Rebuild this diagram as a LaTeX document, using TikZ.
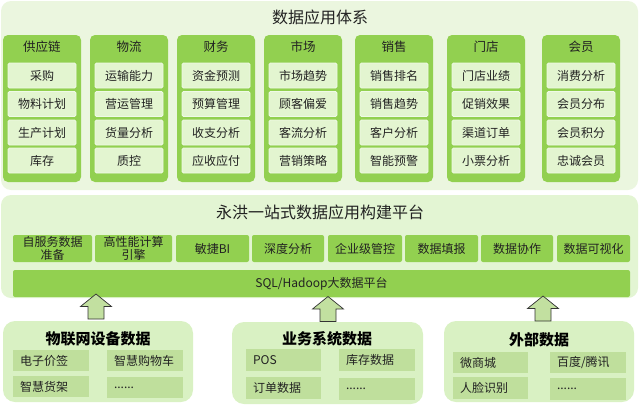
\documentclass[tikz,border=0pt]{standalone}
\usepackage{fontspec}
\setmainfont{Noto Sans CJK SC}
\definecolor{bgtop}{HTML}{EBF6DF}
\definecolor{colg}{HTML}{92D050}
\definecolor{itemg}{HTML}{E3F5D0}
\definecolor{itemb}{HTML}{EFFAE6}
\definecolor{midbg}{HTML}{E3F5D3}
\definecolor{botbg}{HTML}{D9F1C3}
\definecolor{botit}{HTML}{BFDF9C}
\definecolor{arrf}{HTML}{C2E0A0}
\definecolor{txt}{HTML}{222222}
\newcommand\mybox[7]{%
  \pgfmathsetmacro\bw{#4-#2}\pgfmathsetmacro\bh{#5-#3}\pgfmathsetmacro\tw{#4-#2-14}%
  \node[#6, minimum width=\bw pt, minimum height=\bh pt] (#1) at ({(#2+#4)/2},{(#3+#5)/2}) {#7};}
\tikzset{
  panel/.style={fill=bgtop, draw=none, rounded corners=10pt, inner sep=0pt},
  colbox/.style={fill=colg, draw=none, rounded corners=5pt, inner sep=0pt},
  itembox/.style={fill=itemg, draw=itemb, line width=0.8pt, rounded corners=1.5pt, inner sep=0pt, text=txt, font=\fontsize{12}{13}\selectfont},
  featbox/.style={fill=colg, draw=none, rounded corners=2pt, inner sep=0pt, text=txt, align=center, font=\fontsize{12}{12.5}\selectfont},
  botpanel/.style={fill=botbg, draw=none, rounded corners=12pt, inner sep=0pt},
  botitem/.style={fill=botit, draw=none, inner sep=0pt, inner xsep=7pt, text width=\tw pt, align=left, text=txt, font=\fontsize{12}{13}\selectfont},
  hdr/.style={text=txt, font=\fontsize{12.5}{13}\selectfont, inner sep=0pt},
  title/.style={text=txt, font=\fontsize{16}{17}\selectfont, inner sep=0pt},
  btitle/.style={text=black, font=\fontsize{15}{16}\selectfont\bfseries, inner sep=0pt},
  blockarrow/.style={fill=arrf, draw=black!80, line width=0.7pt, line join=miter}
}
\begin{document}
\begin{tikzpicture}[x=1pt,y=-1pt]
\useasboundingbox (0,0) rectangle (640,410);
% top panel
\mybox{top}{1}{1}{638}{190}{panel}{}
\node[title] (toptitle) at (320,17) {数据应用体系};
% columns
\def\cols{{3,90,177,264,355,447,542}}
\foreach \i/\h/\a/\b/\c/\d in {
 0/供应链/采购/物料计划/生产计划/库存,
 1/物流/运输能力/营运管理/货量分析/质控,
 2/财务/资金预测/预算管理/收支分析/应收应付,
 3/市场/市场趋势/顾客偏爱/客流分析/营销策略,
 4/销售/销售排名/销售趋势/客户分析/智能预警,
 5/门店/门店业绩/促销效果/渠道订单/小票分析,
 6/会员/消费分析/会员分布/会员积分/忠诚会员}{
  \pgfmathsetmacro\xl{\cols[\i]}
  \pgfmathsetmacro\xr{\xl+78}
  \pgfmathsetmacro\il{\xl+5}
  \pgfmathsetmacro\ir{\xr-5}
  \mybox{col\i}{\xl}{35}{\xr}{182}{colbox}{}
  \node[hdr] (h\i) at ({\xl+39},47) {\h};
  \mybox{i\i a}{\il}{63}{\ir}{88}{itembox}{\a}
  \mybox{i\i b}{\il}{91.5}{\ir}{116.5}{itembox}{\b}
  \mybox{i\i c}{\il}{120}{\ir}{145}{itembox}{\c}
  \mybox{i\i d}{\il}{148}{\ir}{173}{itembox}{\d}
}
% middle panel
\mybox{mid}{1}{195}{638}{298}{panel,fill=midbg}{}
\node[title] (midtitle) at (320,212) {永洪一站式数据应用构建平台};
\mybox{f1}{13}{235}{92}{262}{featbox}{自服务数据\\准备}
\mybox{f2}{95}{235}{172}{262}{featbox}{高性能计算\\引擎}
\mybox{f3}{176}{235}{249}{262}{featbox}{敏捷BI}
\mybox{f4}{252}{235}{324}{262}{featbox}{深度分析}
\mybox{f5}{328}{235}{402}{262}{featbox}{企业级管控}
\mybox{f6}{405}{235}{478}{262}{featbox}{数据填报}
\mybox{f7}{481}{235}{553}{262}{featbox}{数据协作}
\mybox{f8}{557}{235}{630}{262}{featbox}{数据可视化}
\mybox{sql}{13}{270}{630}{297}{featbox}{SQL/Hadoop大数据平台}
% bottom panels
\mybox{p1}{3}{321}{193}{402}{botpanel}{}
\mybox{p2}{232}{322}{423}{404}{botpanel}{}
\mybox{p3}{444}{321}{634}{402}{botpanel}{}
\node[btitle] (t1) at (98,339) {物联网设备数据};
\node[btitle] (t2) at (327,339) {业务系统数据};
\node[btitle] (t3) at (539,340) {外部数据};
\mybox{b1a}{13}{350}{89}{371}{botitem}{电子价签}
\mybox{b1b}{107}{350}{183}{371}{botitem}{智慧购物车}
\mybox{b1c}{13}{376}{89}{397}{botitem}{智慧货架}
\mybox{b1d}{107}{377}{183}{398}{botitem}{......}
\mybox{b2a}{246}{349}{321}{371}{botitem}{POS}
\mybox{b2b}{339}{349}{415}{371}{botitem}{库存数据}
\mybox{b2c}{246}{377}{321}{399}{botitem}{订单数据}
\mybox{b2d}{339}{378}{415}{400}{botitem}{......}
\mybox{b3a}{453}{352}{528}{373}{botitem}{微商城}
\mybox{b3b}{550}{352}{626}{373}{botitem}{百度/腾讯}
\mybox{b3c}{453}{377}{528}{399}{botitem}{人脸识别}
\mybox{b3d}{550}{378}{626}{400}{botitem}{......}
% block arrows
\foreach \n/\cx/\ty in {a1/96/294, a2/328/296.5, a3/543/296}{
  \coordinate (\n) at (\cx,\ty);
  \draw[blockarrow] (\n) -- ++(15.5,12.5) -- ++(-7.5,0) -- ++(0,12.5) -- ++(-16,0) -- ++(0,-12.5) -- ++(-7.5,0) -- cycle;
}
\end{tikzpicture}
\end{document}
